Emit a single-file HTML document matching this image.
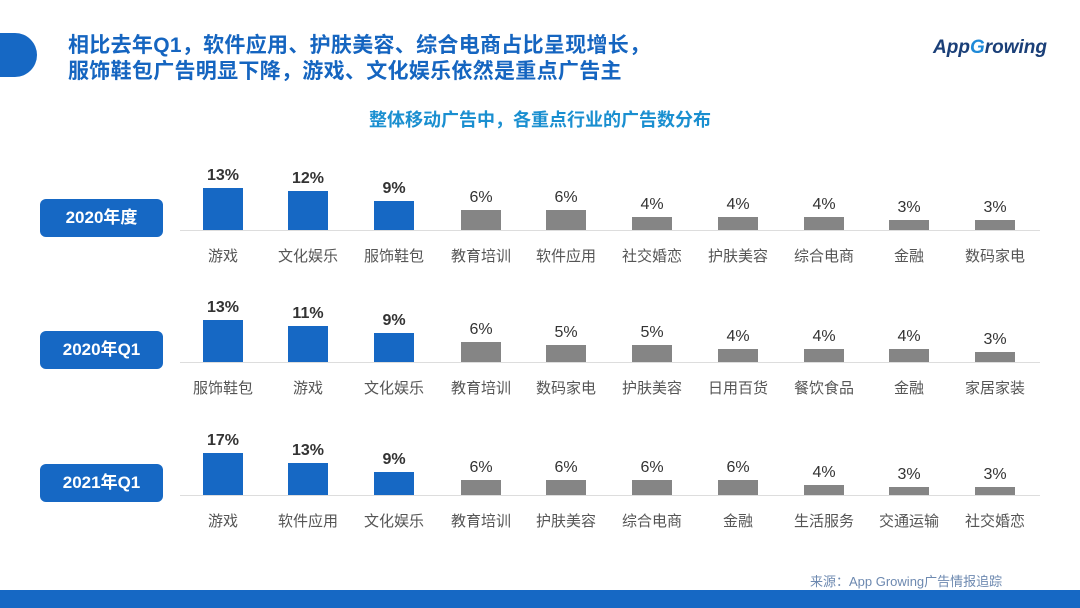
<!DOCTYPE html><html><head><meta charset="utf-8"><style>
body{margin:0;width:1080px;height:608px;background:#fff;position:relative;overflow:hidden;font-family:"Liberation Sans","Noto Sans CJK SC",sans-serif}
.a{position:absolute}
.t{left:68px;color:#1565c0;font-size:21px;font-weight:bold;white-space:nowrap;letter-spacing:0.3px}
.badge{left:40px;width:123px;height:38px;background:#1668c4;border-radius:6px;color:#fff;font-weight:bold;font-size:17px;text-align:center;line-height:38px}
.base{left:180px;width:860px;height:1px;background:#ddd}
.bar{width:40px}
.pv{width:80px;text-align:center;font-size:16px;color:#333}
.cat{width:90px;text-align:center;font-size:15px;color:#555}
</style></head><body>
<div class="a" style="left:-10px;top:33px;width:47px;height:44px;background:#1668c4;border-radius:0 22px 22px 0"></div>
<div class="a t" style="top:29px">相比去年Q1，软件应用、护肤美容、综合电商占比呈现增长，</div>
<div class="a t" style="top:55px">服饰鞋包广告明显下降，游戏、文化娱乐依然是重点广告主</div>
<div class="a" style="left:933px;top:37px;font-size:19px;color:#1a3f78;font-style:italic;font-weight:bold">App<span style="color:#1f8ad8">G</span>rowing</div>
<div class="a" style="left:0;width:1080px;top:106px;text-align:center;font-size:18px;font-weight:bold;color:#1a8fd0">整体移动广告中，各重点行业的广告数分布</div>
<div id="c"></div>
<div class="a" style="left:810px;top:571px;font-size:13px;color:#6d89b0">来源：App Growing广告情报追踪</div>
<div class="a" style="left:0;top:590px;width:1080px;height:18px;background:#1668c4"></div>
<script>
var xs=[223,308,394,481,566,652,738,824,909,995];
var rows=[
{b:230,s:3.2,badge:"2020年度",v:[13,12,9,6,6,4,4,4,3,3],c:["游戏","文化娱乐","服饰鞋包","教育培训","软件应用","社交婚恋","护肤美容","综合电商","金融","数码家电"]},
{b:362,s:3.2,badge:"2020年Q1",v:[13,11,9,6,5,5,4,4,4,3],c:["服饰鞋包","游戏","文化娱乐","教育培训","数码家电","护肤美容","日用百货","餐饮食品","金融","家居家装"]},
{b:495,s:2.45,badge:"2021年Q1",v:[17,13,9,6,6,6,6,4,3,3],c:["游戏","软件应用","文化娱乐","教育培训","护肤美容","综合电商","金融","生活服务","交通运输","社交婚恋"]}];
var h="";
rows.forEach(function(r){
h+='<div class="a badge" style="top:'+(r.b-31)+'px">'+r.badge+'</div>';
h+='<div class="a base" style="top:'+r.b+'px"></div>';
r.v.forEach(function(v,i){var hh=Math.round(v*r.s+0.5);var top=r.b-hh;var blue=i<3;
h+='<div class="a bar" style="left:'+(xs[i]-20)+'px;top:'+top+'px;height:'+hh+'px;background:'+(blue?'#1668c4':'#858585')+'"></div>';
h+='<div class="a pv" style="left:'+(xs[i]-40)+'px;top:'+(top-21)+'px;font-weight:'+(blue?'bold':'normal')+'">'+v+'%</div>';
h+='<div class="a cat" style="left:'+(xs[i]-45)+'px;top:'+(r.b+15)+'px">'+r.c[i]+'</div>';});
});
document.getElementById("c").innerHTML=h;
</script>
</body></html>
